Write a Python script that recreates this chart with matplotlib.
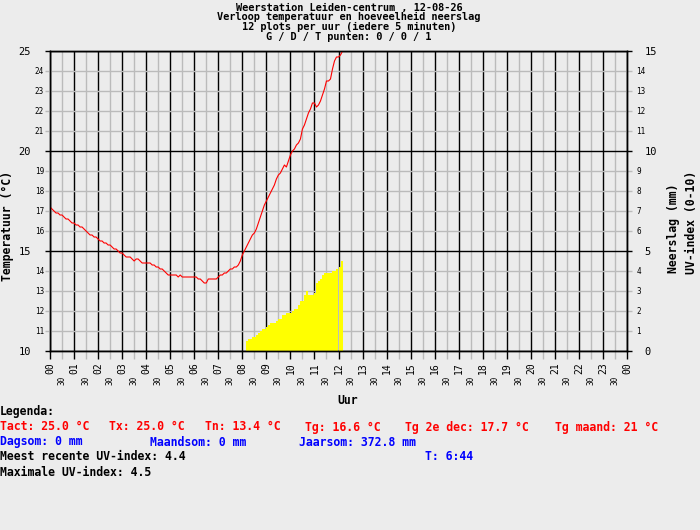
import numpy as np
import matplotlib
matplotlib.use('Agg')
import matplotlib.pyplot as plt

plt.rcParams['font.family'] = ['DejaVu Sans Mono', 'DejaVu Sans']

# temperatuur, elke 5 minuten vanaf 00:00
temp_5min = [
    17.2, 17.1, 17.0, 16.9, 16.9, 16.8, 16.8, 16.7, 16.6, 16.6, 16.5, 16.4,  # 00
    16.4, 16.3, 16.3, 16.2, 16.2, 16.1, 16.0, 15.9, 15.8, 15.8, 15.7, 15.7,  # 01
    15.6, 15.5, 15.5, 15.4, 15.4, 15.3, 15.3, 15.2, 15.1, 15.1, 15.0, 14.9,  # 02
    14.9, 14.8, 14.7, 14.7, 14.7, 14.6, 14.5, 14.6, 14.6, 14.5, 14.4, 14.4,  # 03
    14.4, 14.4, 14.4, 14.3, 14.3, 14.2, 14.2, 14.1, 14.1, 14.0, 13.9, 13.8,  # 04
    13.8, 13.8, 13.8, 13.8, 13.7, 13.8, 13.7, 13.7, 13.7, 13.7, 13.7, 13.7,  # 05
    13.7, 13.7, 13.6, 13.6, 13.5, 13.4, 13.4, 13.6, 13.6, 13.6, 13.6, 13.6,  # 06
    13.7, 13.8, 13.8, 13.9, 13.9, 14.0, 14.1, 14.1, 14.2, 14.2, 14.3, 14.5,  # 07
    14.8, 15.0, 15.2, 15.4, 15.6, 15.8, 15.9, 16.1, 16.4, 16.7, 17.0, 17.3,  # 08
    17.5, 17.7, 17.9, 18.1, 18.3, 18.6, 18.8, 18.9, 19.1, 19.3, 19.2, 19.5,  # 09
    19.8, 20.0, 20.1, 20.3, 20.4, 20.6, 21.1, 21.3, 21.6, 21.9, 22.1, 22.4,  # 10
    22.4, 22.2, 22.3, 22.5, 22.8, 23.1, 23.5, 23.5, 23.6, 24.1, 24.5, 24.7,  # 11
    24.7, 24.8, 25.0,                                                        # 12
]

# UV-index, elke 5 minuten vanaf 08:10
uv_start = 8 + 10 / 60.
uv_5min = [
    0.5, 0.6, 0.6, 0.7, 0.7, 0.8, 0.9, 1.0, 1.1, 1.1, 1.2, 1.3,
    1.4, 1.4, 1.4, 1.5, 1.6, 1.6, 1.8, 1.8, 1.9, 1.9, 1.9, 2.0,
    2.1, 2.1, 2.3, 2.5, 2.5, 2.8, 3.0, 2.8, 2.8, 2.8, 2.9, 3.4,
    3.5, 3.6, 3.8, 3.9, 3.9, 3.9, 3.9, 4.0, 4.0, 4.1, 4.2, 4.5,
]

title_lines = [
    'Weerstation Leiden-centrum , 12-08-26',
    'Verloop temperatuur en hoeveelheid neerslag',
    '12 plots per uur (iedere 5 minuten)',
    'G / D / T punten: 0 / 0 / 1',
]
hour_labels = ['%02d' % (h % 24) for h in range(25)]
half_labels = ['30'] * 24
temp_major = [10, 15, 20, 25]
temp_minor = [t for t in range(11, 25) if t not in temp_major]
rain_major = [0, 5, 10, 15]
rain_minor = [r for r in range(1, 15) if r not in rain_major]

legend_title = 'Legenda:'
legend_temp = ['Tact: 25.0 °C', 'Tx: 25.0 °C', 'Tn: 13.4 °C', 'Tg: 16.6 °C',
               'Tg 2e dec: 17.7 °C', 'Tg maand: 21 °C']
legend_rain = ['Dagsom: 0 mm', 'Maandsom: 0 mm', 'Jaarsom: 372.8 mm']
uv_recent = 'Meest recente UV-index: 4.4'
uv_time = 'T: 6:44'
uv_max = 'Maximale UV-index: 4.5'

BG = '#ECECEC'
GRID = '#BBBBBB'
RED = '#FF0000'
BLUE = '#0000FF'
W, H = 700, 530


def fx(px):
    return px / float(W)


def fy(py):
    return 1 - py / float(H)


fig = plt.figure(figsize=(7, 5.3), dpi=100, facecolor=BG)
# primaire as: neerslag / UV (rechts), onderlaag met grid en balken
ax = fig.add_axes([fx(50), fy(351), 577. / W, 300. / H], facecolor=BG)
ax2 = ax.twinx()  # temperatuur (links), bovenlaag met de lijn

ax.set_xlim(0, 24)
ax.set_ylim(0, 15)
ax.set_axisbelow(True)

uv_t = uv_start + np.arange(len(uv_5min)) * 5 / 60.
ax.bar(uv_t, uv_5min, width=5 / 60., align='edge', color='#FFFF00',
       linewidth=0)

ax.set_xticks(range(25))
ax.set_xticklabels(hour_labels, rotation=90, fontsize=7)
ax.set_xticks(np.arange(24) + 0.5, minor=True)
ax.set_xticklabels(half_labels, minor=True, rotation=90, fontsize=5.5)
ax.tick_params(axis='x', which='major', length=5.8, width=1, color='black',
               pad=2.5)
ax.tick_params(axis='x', which='minor', length=5.8, width=1, color=GRID,
               pad=12)

ax.set_yticks(rain_major)
ax.set_yticklabels([str(r) for r in rain_major], fontsize=7.5)
ax.set_yticks(rain_minor, minor=True)
ax.set_yticklabels([str(r) for r in rain_minor], minor=True, fontsize=5.5)
ax.tick_params(axis='y', which='both', left=False, labelleft=False,
               right=True, labelright=True)
ax.tick_params(axis='y', which='major', length=3.6, width=1, color='black',
               pad=9)
ax.tick_params(axis='y', which='minor', length=3.6, width=1, color=GRID,
               pad=3)

ax.grid(which='minor', color=GRID, linewidth=1)
ax.grid(which='major', color='black', linewidth=1)
for sp in ax.spines.values():
    sp.set_linewidth(1)

ax2.set_ylim(10, 25)
ax2.set_yticks(temp_major)
ax2.set_yticklabels([str(t) for t in temp_major], fontsize=7.5)
ax2.set_yticks(temp_minor, minor=True)
ax2.set_yticklabels([str(t) for t in temp_minor], minor=True, fontsize=5.5)
ax2.get_yticklabels()[-1].set_color(RED)
ax2.tick_params(axis='y', which='both', left=True, labelleft=True,
                right=False, labelright=False)
ax2.tick_params(axis='y', which='major', length=3.6, width=1, color='black',
                pad=10)
ax2.tick_params(axis='y', which='minor', length=3.6, width=1, color=GRID,
                pad=0.7)
for sp in ax2.spines.values():
    sp.set_linewidth(1)

temp_t = np.arange(len(temp_5min)) * 5 / 60.
ax2.plot(temp_t, temp_5min, color=RED, linewidth=0.8)

# teksten
for i, line in enumerate(title_lines):
    fig.text(fx(349), fy(7.5 + 9.9 * i), line, ha='center', va='center',
             fontsize=7.4, fontweight='bold')

fig.text(fx(8), fy(226), 'Temperatuur (°C)', rotation=90, ha='center',
         va='center', fontsize=8.3, fontweight='bold')
fig.text(fx(674), fy(228), 'Neerslag (mm)', rotation=90, ha='center',
         va='center', fontsize=8.3, fontweight='bold')
fig.text(fx(692), fy(222), 'UV-index (0-10)', rotation=90, ha='center',
         va='center', fontsize=8.3, fontweight='bold')
fig.text(fx(348), fy(401), 'Uur', ha='center', va='center', fontsize=8.3,
         fontweight='bold')

kw = dict(ha='left', va='center', fontsize=8.3, fontweight='bold')
fig.text(fx(0), fy(412), legend_title, color='black', **kw)
for txt, px in zip(legend_temp, [0, 109, 205, 305, 405, 555]):
    fig.text(fx(px), fy(427), txt, color=RED, **kw)
for txt, px in zip(legend_rain, [0, 150, 299]):
    fig.text(fx(px), fy(442), txt, color=BLUE, **kw)
fig.text(fx(0), fy(457), uv_recent, color='black', **kw)
fig.text(fx(425), fy(457), uv_time, color=BLUE, **kw)
fig.text(fx(0), fy(472), uv_max, color='black', **kw)

fig.savefig('out.png', dpi=100, facecolor=BG)
